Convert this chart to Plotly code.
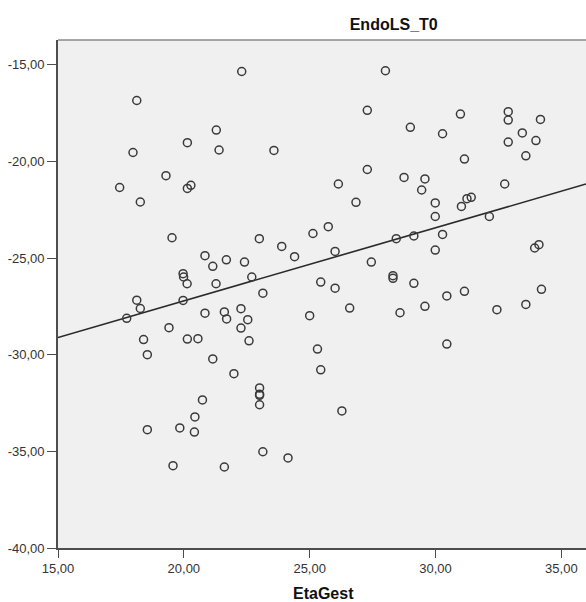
import numpy as np
import plotly.graph_objects as go

eta_gest = [
    22.30, 18.13, 21.29, 20.14, 17.98, 21.40, 23.58, 19.29, 17.45, 20.14,
    20.28, 18.27, 19.53, 23.00, 23.89, 24.40, 20.84, 21.15, 21.69, 22.41,
    19.97, 19.99, 20.13, 21.28, 22.70, 23.14, 18.13, 19.97, 18.27, 17.73,
    20.84, 21.61, 21.70, 22.27, 22.54, 19.41, 22.27, 18.40, 20.14, 20.56,
    22.59, 18.55, 21.15, 21.99, 23.01, 23.01, 23.01, 23.01, 20.74, 20.44,
    19.84, 20.42, 18.55, 23.14, 24.14, 19.57, 21.61,
    28.01, 27.29, 30.99, 32.89, 32.89, 34.17, 29.00, 30.28, 33.45, 32.89,
    33.99, 33.59, 31.15, 27.29, 26.14, 28.75, 29.58, 29.45, 32.75, 26.84,
    29.99, 31.03, 31.25, 31.42, 29.99, 32.14, 25.74, 25.13, 30.28, 28.44,
    29.14, 26.01, 29.99, 34.11, 33.94, 27.45, 28.31, 28.31, 25.44, 26.01,
    29.14, 30.45, 31.15, 34.21, 33.59, 25.00, 26.59, 28.59, 29.58, 32.44,
    30.45, 25.31, 25.44, 26.28,
]
endols_t0 = [
    -15.35, -16.85, -18.38, -19.03, -19.54, -19.41, -19.43, -20.74, -21.35, -21.40,
    -21.24, -22.10, -23.95, -24.00, -24.40, -24.93, -24.88, -25.43, -25.09, -25.21,
    -25.81, -25.98, -26.33, -26.33, -25.98, -26.82, -27.18, -27.19, -27.61, -28.12,
    -27.85, -27.79, -28.15, -27.62, -28.19, -28.60, -28.62, -29.22, -29.19, -29.17,
    -29.28, -30.00, -30.22, -30.98, -31.72, -32.04, -32.10, -32.59, -32.34, -33.22,
    -33.79, -34.00, -33.88, -35.02, -35.34, -35.74, -35.81,
    -15.31, -17.36, -17.55, -17.43, -17.86, -17.83, -18.24, -18.57, -18.53, -19.00,
    -18.92, -19.71, -19.88, -20.42, -21.17, -20.83, -20.91, -21.48, -21.17, -22.12,
    -22.15, -22.33, -21.93, -21.86, -22.85, -22.85, -23.38, -23.73, -23.78, -24.00,
    -23.86, -24.66, -24.59, -24.31, -24.48, -25.21, -25.91, -26.05, -26.24, -26.56,
    -26.31, -26.96, -26.72, -26.62, -27.40, -27.98, -27.59, -27.83, -27.50, -27.67,
    -29.45, -29.71, -30.78, -32.91,
]
x_ticks = [15, 20, 25, 30, 35]
x_tick_labels = ["15,00", "20,00", "25,00", "30,00", "35,00"]
y_ticks = [-40, -35, -30, -25, -20, -15]
y_tick_labels = ["-40,00", "-35,00", "-30,00", "-25,00", "-20,00", "-15,00"]

x_range = [15, 35.98]
y_range = [-40, -13.72]

slope, intercept = np.polyfit(eta_gest, endols_t0, 1)
fit_x = np.array(x_range)
fit_y = intercept + slope * fit_x

fig = go.Figure()
fig.add_trace(go.Scatter(
    x=fit_x, y=fit_y, mode="lines",
    line=dict(color="#2a2a2a", width=1.6),
    hoverinfo="skip", showlegend=False,
))
fig.add_trace(go.Scatter(
    x=eta_gest, y=endols_t0, mode="markers",
    marker=dict(symbol="circle-open", size=8, color="#3a3a3a",
                line=dict(width=1.5, color="#3a3a3a")),
    showlegend=False,
))

font_family = "Liberation Sans, Arial, sans-serif"
fig.update_layout(
    width=586, height=602,
    margin=dict(l=58, r=0, t=40, b=54),
    paper_bgcolor="white",
    plot_bgcolor="#f0f0f0",
    font=dict(family=font_family, size=13, color="#333333"),
    showlegend=False,
    title=dict(text="<b>EndoLS_T0</b>", x=(393.7 - 58) / 528, xref="paper",
               xanchor="center", y=1 - 24 / 602, yanchor="middle",
               font=dict(size=16, color="#111111", family=font_family)),
)
fig.update_xaxes(
    range=x_range, tickvals=x_ticks, ticktext=x_tick_labels,
    showgrid=False, zeroline=False,
    showline=True, linecolor="#4d4d4d", linewidth=1.6,
    ticks="outside", ticklen=8, tickwidth=1.3, tickcolor="#4d4d4d",
    tickfont=dict(size=13, color="#333333"),
)
fig.update_yaxes(
    range=y_range, tickvals=y_ticks, ticktext=y_tick_labels,
    showgrid=False, zeroline=False,
    showline=True, linecolor="#4d4d4d", linewidth=1.6,
    ticks="outside", ticklen=9, tickwidth=1.3, tickcolor="#4d4d4d",
    tickfont=dict(size=13, color="#333333"),
)
# top border of the plot frame
fig.add_shape(type="line", xref="paper", yref="paper", x0=0, x1=1, y0=1, y1=1,
              line=dict(color="#8a8a8a", width=1.5))
fig.add_annotation(text="<b>EtaGest</b>", xref="paper", yref="paper",
                   x=(323 - 58) / 528, y=-(593 - 548) / 508,
                   xanchor="center", yanchor="middle", showarrow=False,
                   font=dict(size=16, color="#111111", family=font_family))

fig.write_html("out.html")
